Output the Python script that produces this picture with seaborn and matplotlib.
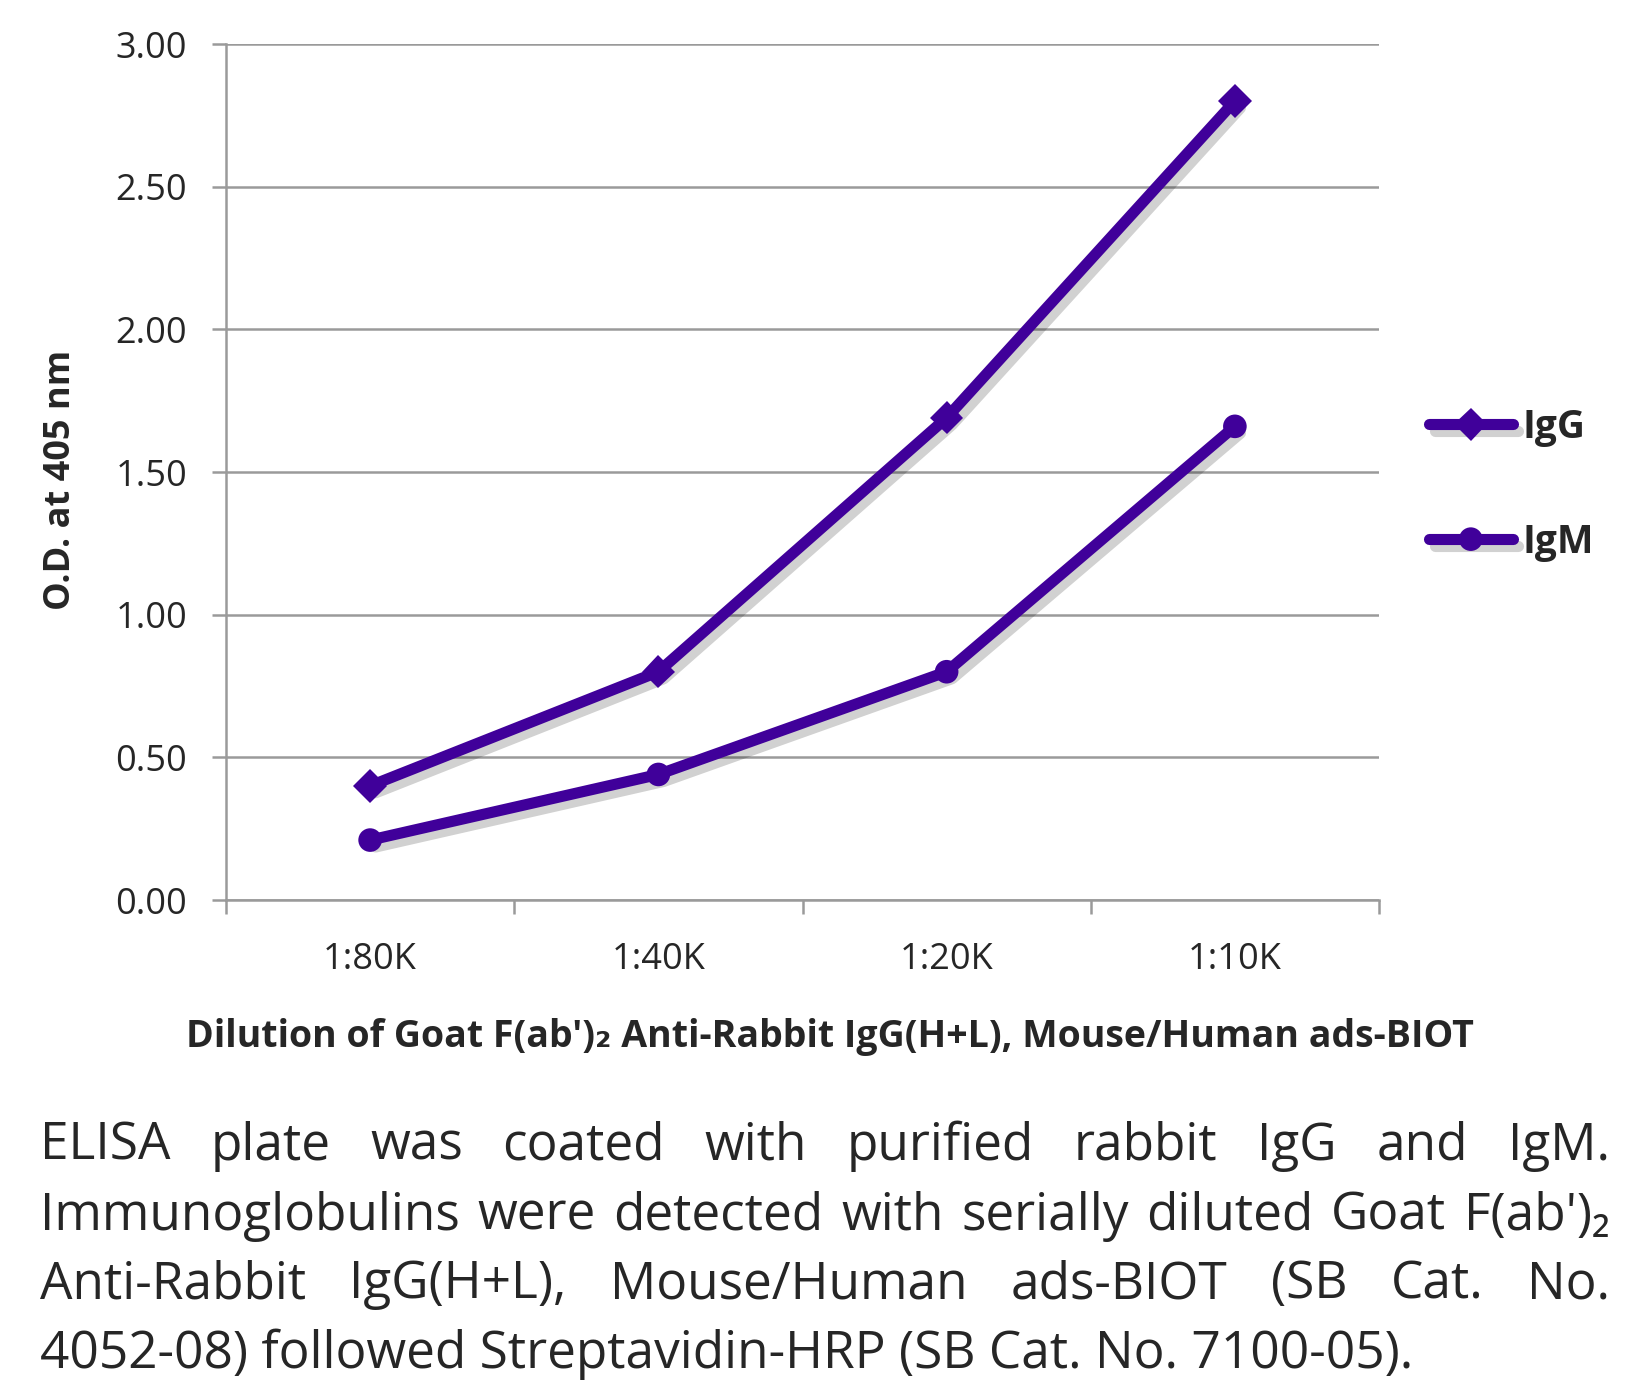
import numpy as np
import pandas as pd
import seaborn as sns
import matplotlib.pyplot as plt
import matplotlib.patheffects as pe
from matplotlib.ticker import FixedLocator

dilutions = ['1:80K', '1:40K', '1:20K', '1:10K']
igg = [0.40, 0.80, 1.69, 2.80]
igm = [0.21, 0.44, 0.80, 1.66]
yticks = [0.0, 0.5, 1.0, 1.5, 2.0, 2.5, 3.0]

caption = [
    "ELISA plate was coated with purified rabbit IgG and IgM.",
    "Immunoglobulins were detected with serially diluted Goat F(ab')\u2082",
    "Anti-Rabbit IgG(H+L), Mouse/Human ads-BIOT (SB Cat. No.",
    "4052-08) followed Streptavidin-HRP (SB Cat. No. 7100-05).",
]

df = pd.DataFrame({
    'dilution': dilutions * 2,
    'od': igg + igm,
    'ab': ['IgG'] * 4 + ['IgM'] * 4,
})

sns.set_theme(style='white')
plt.rcParams['font.family'] = ['Open Sans', 'DejaVu Sans']
purple = '#40009a'
W, H = 1650, 1386
fig = plt.figure(figsize=(W / 100, H / 100), dpi=100)
ax = fig.add_axes([226 / W, 1 - 900 / H, (1379 - 226) / W, (900 - 44) / H])

shadow = [pe.SimpleLineShadow(offset=(4, -5), shadow_color='black', alpha=0.18), pe.Normal()]
sns.lineplot(data=df, x='dilution', y='od', hue='ab', style='ab',
             markers={'IgG': 'D', 'IgM': 'o'}, dashes=False,
             palette=[purple, purple], linewidth=8, markersize=17,
             markeredgewidth=0, sort=False, ax=ax, legend=True)
for ln in ax.get_lines():
    ln.set_path_effects(shadow)
    ln.set_solid_capstyle('round')

ax.set_xlim(-0.5, 3.5)
ax.set_ylim(0, 3.0)
ax.set_yticks(yticks)
ax.set_yticklabels([f'{v:.2f}' for v in yticks])
ax.yaxis.grid(True, color='#9a9a9a', linewidth=1.8)
ax.set_axisbelow(True)
ax.xaxis.set_minor_locator(FixedLocator(np.arange(-0.5, 4, 1.0)))
ax.tick_params(axis='x', which='major', length=0, pad=30, labelsize=26)
ax.tick_params(axis='x', which='minor', length=10, width=1.8, color='#9a9a9a', direction='out')
ax.tick_params(axis='y', length=10, width=1.8, color='#9a9a9a', direction='out', pad=18, labelsize=26)
ax.tick_params(bottom=True, left=True, which='both')
for s in ['top', 'right']:
    ax.spines[s].set_visible(False)
for s in ['left', 'bottom']:
    ax.spines[s].set_color('#9a9a9a')
    ax.spines[s].set_linewidth(1.8)
ax.set_xlabel('')
ax.set_ylabel('')

handles, labels = ax.get_legend_handles_labels()
for h in handles:
    h.set_linewidth(8)
    h.set_markersize(17)
    h.set_solid_capstyle('round')
leg = ax.legend(handles, labels, loc='center left', bbox_to_anchor=(1.013, 0.485),
                frameon=False, handlelength=2.15, handletextpad=0.25, labelspacing=1.95,
                prop={'weight': 'bold', 'size': 28})

fig.text(61 / W, 1 - 480 / H, 'O.D. at 405 nm', rotation=90, ha='center', va='center',
         fontsize=26, fontweight='bold')
fig.text(830 / W, 1 - 1037 / H,
         "Dilution of Goat F(ab')\u2082 Anti-Rabbit IgG(H+L), Mouse/Human ads-BIOT",
         ha='center', va='center', fontsize=27, fontweight='bold')

# justified caption
fig.canvas.draw()
r = fig.canvas.get_renderer()
left, right = 40, 1610
ys = [1146, 1216, 1285, 1354]
fs = 37
for i, line in enumerate(caption):
    y = 1 - ys[i] / H
    words = line.split(' ')
    if i == len(caption) - 1:
        fig.text(left / W, y, line, ha='left', va='center', fontsize=fs)
        continue
    objs = [fig.text(0, y, w, ha='left', va='center', fontsize=fs) for w in words]
    widths = [o.get_window_extent(r).width for o in objs]
    gap = (right - left - sum(widths)) / (len(words) - 1)
    x = left
    for o, w in zip(objs, widths):
        o.set_x(x / W)
        x += w + gap

fig.savefig('out.png', dpi=100)
